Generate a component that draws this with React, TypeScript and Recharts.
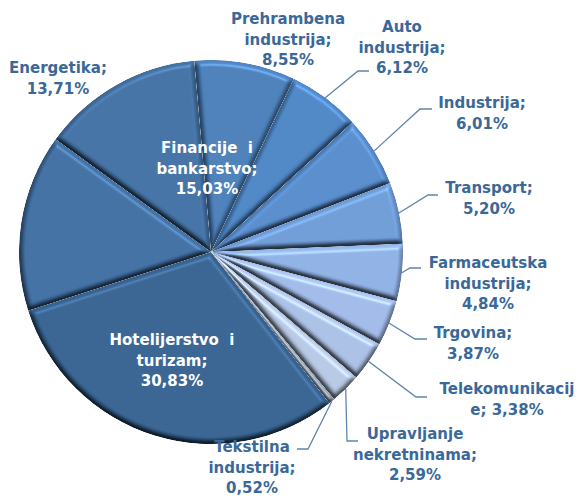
import React from 'react';
import { PieChart, Pie, Cell } from 'recharts';

const categories = [
  'Prehrambena industrija',
  'Auto industrija',
  'Industrija',
  'Transport',
  'Farmaceutska industrija',
  'Trgovina',
  'Telekomunikacije',
  'Upravljanje nekretninama',
  'Tekstilna industrija',
  'Hotelijerstvo i turizam',
  'Financije i bankarstvo',
  'Energetika',
];
const shares = [8.55, 6.12, 6.01, 5.2, 4.84, 3.87, 3.38, 2.59, 0.52, 30.83, 15.03, 13.71];
const labelLines = [
  ['Prehrambena', 'industrija;', '8,55%'],
  ['Auto', 'industrija;', '6,12%'],
  ['Industrija;', '6,01%'],
  ['Transport;', '5,20%'],
  ['Farmaceutska', 'industrija;', '4,84%'],
  ['Trgovina;', '3,87%'],
  ['Telekomunikacij', 'e; 3,38%'],
  ['Upravljanje', 'nekretninama;', '2,59%'],
  ['Tekstilna', 'industrija;', '0,52%'],
  ['Hotelijerstvo  i', 'turizam;', '30,83%'],
  ['Financije  i', 'bankarstvo;', '15,03%'],
  ['Energetika;', '13,71%'],
];
const sliceColors = [
  '#4474ab', '#467ab5', '#4f80bc', '#6690c6', '#84a3d2', '#94acd6',
  '#9eb1d4', '#a9b9d2', '#8f9cad', '#315a85', '#3a6594', '#3c6796',
];

// hand placed labels: x, first line y, elbow of the leader (if any)
const labelPlaces = [
  { x: 288, y: 24 },
  { x: 402, y: 32, elbow: [358, 71, 369, 71] },
  { x: 482, y: 108, elbow: [420, 109, 432, 109] },
  { x: 489, y: 193, elbow: [428, 195, 438, 195] },
  { x: 488, y: 268, elbow: [410, 268, 421, 268] },
  { x: 473, y: 338, elbow: [415, 339, 427, 339] },
  { x: 507, y: 394, elbow: [416, 397, 427, 397] },
  { x: 415, y: 439, elbow: [347, 441, 358, 441] },
  { x: 252, y: 452, elbow: [308, 449, 297, 449] },
  { x: 172, y: 345, inside: true },
  { x: 207, y: 153, inside: true },
  { x: 58, y: 73 },
];

const data = categories.map((name, i) => ({ name, value: shares[i] }));
const RAD = Math.PI / 180;
const TEXT_COLOR = '#3a6899';

const renderLabel = (props: any) => {
  const { cx, cy, midAngle, outerRadius, index } = props;
  const place = labelPlaces[index];
  const sx = cx + outerRadius * Math.cos(-midAngle * RAD);
  const sy = cy + outerRadius * Math.sin(-midAngle * RAD);
  return (
    <g key={index}>
      {place.elbow && (
        <polyline
          points={`${sx},${sy} ${place.elbow.join(' ')}`}
          fill="none"
          stroke="#5f84ab"
          strokeWidth={1.3}
        />
      )}
      <text
        x={place.x}
        y={place.y}
        textAnchor="middle"
        fontFamily="'DejaVu Sans', sans-serif"
        fontWeight="bold"
        fontSize={15}
        fill={place.inside ? '#ffffff' : TEXT_COLOR}
      >
        {labelLines[index].map((line, i) => (
          <tspan key={i} x={place.x} y={place.y + i * 20.5} xmlSpace="preserve">
            {line}
          </tspan>
        ))}
      </text>
    </g>
  );
};

const App: React.FC = () => (
  <div style={{ position: 'absolute', left: 0, top: 0, width: 581, height: 499, background: '#fff' }}>
    <PieChart width={581} height={499} margin={{ top: 0, right: 0, bottom: 0, left: 0 }}>
      <defs>
        <filter id="bevel" x="-5%" y="-5%" width="110%" height="110%" colorInterpolationFilters="sRGB">
          <feGaussianBlur in="SourceAlpha" stdDeviation="2.6" result="blur" />
          <feDiffuseLighting in="blur" surfaceScale="5" diffuseConstant="1" lightingColor="#ffffff" result="diffuse">
            <feDistantLight azimuth="285" elevation="55" />
          </feDiffuseLighting>
          <feComposite in="SourceGraphic" in2="diffuse" operator="arithmetic" k1="0.9" k2="0.3" k3="0" k4="0" result="shaded" />
          <feSpecularLighting in="blur" surfaceScale="5" specularConstant="0.5" specularExponent="30" lightingColor="#d8e8ff" result="spec">
            <feDistantLight azimuth="285" elevation="55" />
          </feSpecularLighting>
          <feComposite in="shaded" in2="spec" operator="arithmetic" k1="0" k2="1" k3="0.35" k4="0" result="lit" />
          <feComposite in="lit" in2="SourceAlpha" operator="in" />
        </filter>
      </defs>
      <Pie
        data={data}
        dataKey="value"
        nameKey="name"
        cx={211}
        cy={252}
        outerRadius={192}
        startAngle={95}
        endAngle={-265}
        stroke="none"
        label={renderLabel}
        labelLine={false}
        isAnimationActive={false}
      >
        {data.map((entry, i) => (
          <Cell key={entry.name} fill={sliceColors[i]} filter="url(#bevel)" />
        ))}
      </Pie>
    </PieChart>
  </div>
);

export default App;
